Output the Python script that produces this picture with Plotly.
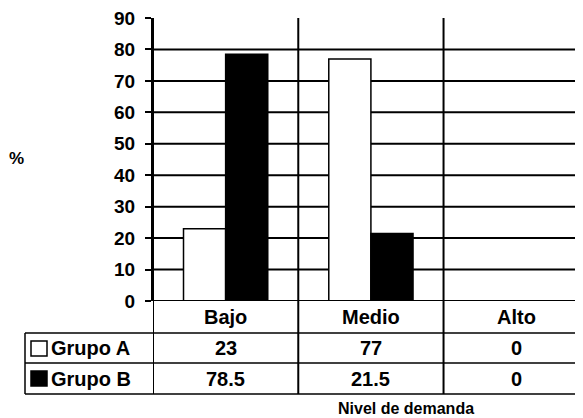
import plotly.graph_objects as go

# ---- data ----
categories = ["Bajo", "Medio", "Alto"]
series_names = ["Grupo A", "Grupo B"]
grupo_a = [23, 77, 0]
grupo_b = [78.5, 21.5, 0]
y_ticks = [0, 10, 20, 30, 40, 50, 60, 70, 80, 90]
x_title = "Nivel de demanda"
y_title = "%"

FONT = "Arial, Liberation Sans, sans-serif"
BLACK = "#000000"

# the page body has an 8px margin; figure is sized to fill the rest of the window
OFF = 8
W, H = 583 - OFF, 418 - OFF
SL, ST, SB = 153, 18, 301          # plot area left / top / bottom in screen pixels
PW, PH = 583 - SL, SB - ST


def py(pix):  # screen pixel row -> paper y
    return (SB - pix) / PH


def px(pix):  # screen pixel col -> paper x
    return (pix - SL) / PW


fig = go.Figure()
fig.add_trace(go.Bar(x=categories, y=grupo_a, name=series_names[0],
                     marker=dict(color="white", line=dict(color=BLACK, width=1.5))))
fig.add_trace(go.Bar(x=categories, y=grupo_b, name=series_names[1],
                     marker=dict(color=BLACK, line=dict(color=BLACK, width=1.5))))

shapes = []
# horizontal gridlines (no line at top value)
for v in y_ticks[1:-1]:
    shapes.append(dict(type="line", xref="paper", yref="y", x0=0, x1=1, y0=v, y1=v,
                       line=dict(color=BLACK, width=2), layer="below"))

# table rows (screen pixel rows)
hdr_bot, rowa_bot, rowb_bot = 333, 363, 394
tbl_left = 25

# vertical category dividers + axis, continuing through the table
for xv in [-0.5, 0.5, 1.5]:
    shapes.append(dict(type="line", xref="x", yref="paper", x0=xv, x1=xv,
                       y0=1, y1=py(rowb_bot), line=dict(color=BLACK, width=2)))
# x-axis line
shapes.append(dict(type="line", xref="paper", yref="y", x0=0, x1=1, y0=0, y1=0,
                   line=dict(color=BLACK, width=2)))
# table horizontal lines
for r in [hdr_bot, rowa_bot, rowb_bot]:
    shapes.append(dict(type="line", xref="paper", yref="paper", x0=px(tbl_left), x1=1,
                       y0=py(r), y1=py(r), line=dict(color=BLACK, width=1.5)))
# table left border
shapes.append(dict(type="line", xref="paper", yref="paper", x0=px(tbl_left), x1=px(tbl_left),
                   y0=py(hdr_bot), y1=py(rowb_bot), line=dict(color=BLACK, width=1.5)))
# legend keys
for (top, fill) in [(341, "white"), (371, BLACK)]:
    shapes.append(dict(type="rect", xref="paper", yref="paper", x0=px(31), x1=px(47),
                       y0=py(top), y1=py(top + 15), fillcolor=fill,
                       line=dict(color=BLACK, width=1.5)))

annotations = []
tfont = dict(family=FONT, size=20, color=BLACK, weight="bold")
# header row
for c in categories:
    annotations.append(dict(x=c, y=py((SB + hdr_bot) / 2), xref="x", yref="paper",
                            text=c, showarrow=False, font=tfont, xanchor="center", yanchor="middle"))
# data rows
for name, vals, (r0, r1) in [(series_names[0], grupo_a, (hdr_bot, rowa_bot)),
                             (series_names[1], grupo_b, (rowa_bot, rowb_bot))]:
    yc = py((r0 + r1) / 2)
    annotations.append(dict(x=px(49), y=yc, xref="paper", yref="paper", text=name,
                            showarrow=False, font=tfont, xanchor="left", yanchor="middle"))
    for c, v in zip(categories, vals):
        annotations.append(dict(x=c, y=yc, xref="x", yref="paper", text=f"{v:g}",
                                showarrow=False, font=tfont, xanchor="center", yanchor="middle"))
# axis titles
annotations.append(dict(x=px(406), y=py(408), xref="paper", yref="paper", text=x_title,
                        showarrow=False, font=dict(family=FONT, size=16, color=BLACK, weight="bold"),
                        xanchor="center", yanchor="middle"))
annotations.append(dict(x=px(16), y=py(158), xref="paper", yref="paper", text=y_title,
                        showarrow=False, font=dict(family=FONT, size=17, color=BLACK, weight="bold"),
                        xanchor="center", yanchor="middle"))

fig.update_layout(
    width=W, height=H,
    margin=dict(l=SL - OFF, r=0, t=ST - OFF, b=H - (SB - OFF), pad=0),
    paper_bgcolor="white", plot_bgcolor="white",
    showlegend=False,
    barmode="group", bargap=0.42, bargroupgap=0,
    xaxis=dict(range=[-0.5, 2.46], showticklabels=False, ticks="", showgrid=False,
               zeroline=False, showline=False, fixedrange=True),
    yaxis=dict(range=[0, 90], tickvals=y_ticks, ticks="outside", ticklen=6, tickwidth=2,
               tickcolor=BLACK, showgrid=False, zeroline=False, showline=True,
               linecolor=BLACK, linewidth=2, ticklabelstandoff=6,
               ticklabeloverflow="allow",
               tickfont=dict(family=FONT, size=19, color=BLACK, weight="bold")),
    shapes=shapes,
    annotations=annotations,
)

fig.write_html("out.html")
